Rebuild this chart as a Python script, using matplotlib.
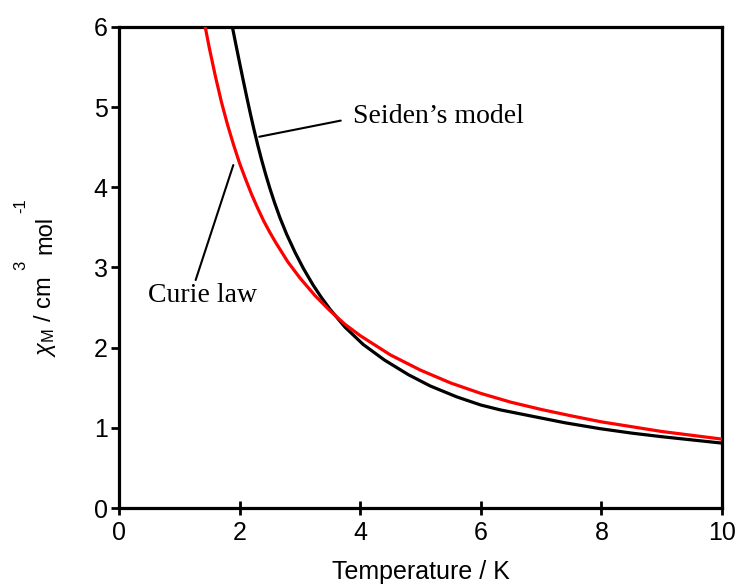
import matplotlib
matplotlib.use("Agg")
import matplotlib.pyplot as plt

# Curie law (red)
curie_T = [1.43, 1.50, 1.60, 1.70, 1.80, 1.90, 2.00, 2.10, 2.20, 2.30, 2.40, 2.50, 2.60,
           2.80, 3.00, 3.25, 3.50, 3.75, 4.00, 4.50, 5.00, 5.50, 6.00, 6.50, 7.00,
           7.50, 8.00, 9.00, 10.00]
curie_chi = [6.00, 5.73, 5.38, 5.06, 4.78, 4.53, 4.30, 4.10, 3.91, 3.74, 3.58, 3.44, 3.31,
             3.07, 2.87, 2.65, 2.46, 2.29, 2.15, 1.91, 1.72, 1.56, 1.43, 1.32, 1.23,
             1.15, 1.075, 0.955, 0.86]

# Seiden's model (black)
seiden_T = [1.88, 1.94, 2.00, 2.06, 2.12, 2.18, 2.24, 2.30, 2.36, 2.43, 2.50, 2.58,
            2.67, 2.78, 2.92, 3.06, 3.22, 3.36, 3.50, 3.75, 4.05, 4.40, 4.80, 5.16,
            5.60, 6.00, 6.32, 6.82, 7.40, 7.98, 8.50, 9.00, 9.50, 10.00]
seiden_chi = [6.000, 5.775, 5.553, 5.334, 5.121, 4.914, 4.716, 4.530, 4.356, 4.167,
              3.992, 3.808, 3.619, 3.415, 3.188, 2.985, 2.780, 2.622, 2.479, 2.254,
              2.040, 1.847, 1.663, 1.523, 1.387, 1.285, 1.225, 1.150, 1.063, 0.990,
              0.935, 0.890, 0.850, 0.810]

x_ticks = [0, 2, 4, 6, 8, 10]
y_ticks = [0, 1, 2, 3, 4, 5, 6]

plt.rcParams['font.family'] = ['Liberation Sans', 'DejaVu Sans']
plt.rcParams['mathtext.fontset'] = 'custom'
plt.rcParams['mathtext.rm'] = 'Liberation Sans'
plt.rcParams['mathtext.it'] = 'Liberation Sans:italic'

W, H = 739, 584
fig = plt.figure(figsize=(W / 100, H / 100), dpi=100)
ax = fig.add_axes([0.161, 0.130, 0.816, 0.824])

ax.plot(seiden_T, seiden_chi, color='black', lw=2.3, solid_capstyle='butt', zorder=3)
ax.plot(curie_T, curie_chi, color='#ff0000', lw=2.3, solid_capstyle='butt', zorder=3)

ax.set_xlim(0, 10)
ax.set_ylim(0, 6)
ax.set_xticks(x_ticks)
ax.set_yticks(y_ticks)
for s in ax.spines.values():
    s.set_linewidth(2.3)
    s.set_color('black')
ax.tick_params(axis='x', direction='inout', length=10, width=2.0, labelsize=18, pad=4)
ax.tick_params(axis='y', direction='out', length=6, width=2.0, labelsize=18, pad=2)

ax.set_xlabel('Temperature / K', fontsize=18, labelpad=11)

# y-axis label built from pieces (superscripts set high, as in the original)
renderer = fig.canvas.get_renderer()


def put(txt, xpx, ypx, size):
    t = fig.text(xpx / W, 1 - ypx / H, txt, rotation=90, rotation_mode='anchor',
                 ha='left', va='baseline', fontsize=size)
    bb = t.get_window_extent(renderer)
    return bb.y1  # top in display coords (pixels from bottom)


top = put(r'$\chi_{\mathrm{M}}$ / cm', 51, 357, 17)
y_next = H - top - 6
top = put('3', 25, y_next, 12)
y_next = H - top - 7
top = put('mol', 51, y_next, 17)
y_next = H - top - 3
put('-1', 25, y_next, 12)

serif = ['Liberation Serif', 'DejaVu Serif']
ax.annotate('Seiden\u2019s model', xy=(2.327, 4.63), xytext=(3.876, 4.797),
            fontsize=20, family=serif, ha='left', va='baseline',
            arrowprops=dict(arrowstyle='-', lw=1.5, color='black',
                            shrinkA=0, shrinkB=0, relpos=(-0.07, 0.35)))
ax.annotate('Curie law', xy=(1.896, 4.277), xytext=(0.486, 2.572),
            fontsize=20, family=serif, ha='left', va='baseline',
            arrowprops=dict(arrowstyle='-', lw=1.5, color='black',
                            shrinkA=0, shrinkB=0, relpos=(0.43, 1.05)))

fig.savefig('out.png', dpi=100)
